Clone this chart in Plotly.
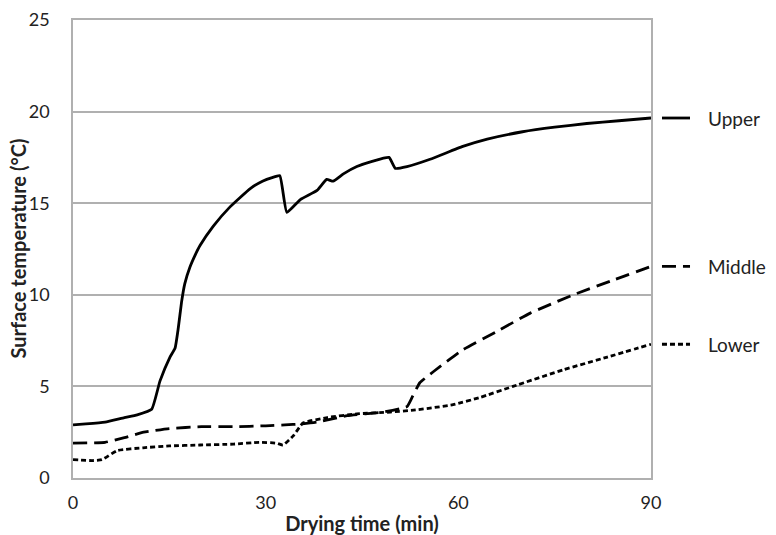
import plotly.graph_objects as go

# Upper series
upper_t = [0, 2, 5, 8, 10, 12.25, 13.55, 15.1, 15.9, 16.4, 16.9, 17.4, 18.2, 19.0, 19.8, 21.85, 24.45, 27.6, 29.5, 31, 32.2,
           33.3, 35.4, 38, 39.5, 40.5, 42.1, 44.2, 46.7, 49.2, 50.2, 52, 55.6, 60.7, 64.5, 70, 75, 80, 85, 90]
upper_v = [2.9, 2.95, 3.05, 3.3, 3.45, 3.75, 5.3, 6.6, 7.1, 8.2, 9.6, 10.6, 11.5, 12.15, 12.7, 13.75, 14.8, 15.8, 16.2, 16.4, 16.5,
           14.5, 15.2, 15.7, 16.3, 16.2, 16.6, 17.0, 17.3, 17.5, 16.9, 17.0, 17.4, 18.1, 18.5, 18.9, 19.15, 19.35, 19.5, 19.65]

# Middle series
middle_t = [0, 5, 8, 11, 15, 20, 25, 30, 33, 35.5, 38, 42.7, 48.3, 52, 52.8, 54, 56.1, 60.7, 66, 71.2, 77.9, 84.1, 90]
middle_v = [1.9, 1.95, 2.2, 2.5, 2.7, 2.8, 2.8, 2.85, 2.9, 2.95, 3.05, 3.4, 3.6, 3.9, 4.4, 5.2, 5.8, 7.0, 8.0, 9.0, 10.0, 10.8, 11.55]

# Lower series
lower_t = [0, 3, 4.5, 6.9, 10.9, 15, 19.8, 25, 29, 31.7, 32.7, 34.3, 35.8, 39.6, 44.2, 49.4, 53, 59.2, 63.4, 68.5, 76.3, 83.2, 90]
lower_v = [1.0, 0.95, 1.0, 1.5, 1.65, 1.75, 1.8, 1.85, 1.95, 1.9, 1.8, 2.3, 3.0, 3.3, 3.5, 3.6, 3.7, 4.0, 4.4, 5.0, 5.9, 6.6, 7.3]

series_names = ["Upper", "Middle", "Lower"]
dashes = ["solid", "14px,7px", "5px,3px"]

x_ticks = [0, 30, 60, 90]
y_ticks = [0, 5, 10, 15, 20, 25]

FONT = "Lato, 'Open Sans', sans-serif"

fig = go.Figure()
data = [(upper_t, upper_v), (middle_t, middle_v), (lower_t, lower_v)]
for (t, v), name, d in zip(data, series_names, dashes):
    fig.add_trace(go.Scatter(x=t, y=v, mode="lines", name=name, line_shape="spline",
                             line=dict(color="black", width=2.8, dash=d, smoothing=0.4), showlegend=False))
    # legend-like label at series end
    fig.add_shape(type="line", xref="paper", yref="y", x0=1.019, x1=1.0675, y0=v[-1], y1=v[-1],
                  line=dict(color="black", width=2.8, dash=d))
    fig.add_annotation(xref="paper", yref="y", x=1.095, y=v[-1], text=name, showarrow=False,
                       xanchor="left", yanchor="middle", font=dict(family=FONT, size=19, color="#222"))

# y-axis title as rotated annotation
fig.add_annotation(xref="paper", yref="paper", x=-0.096, y=0.5, text="<b>Surface temperature (°C)</b>",
                   textangle=-90, showarrow=False, xanchor="center", yanchor="middle",
                   font=dict(family=FONT, size=20, color="#222"))

axis_common = dict(showline=True, linecolor="#b0b0b0", linewidth=1.5, mirror=True, automargin=False,
                   zeroline=False, ticks="", tickfont=dict(family=FONT, size=18, color="#222"))

fig.update_xaxes(range=[0, 90], tickvals=x_ticks, showgrid=False, ticklabelstandoff=8,
                 title=dict(text="<b>Drying time (min)</b>", font=dict(family=FONT, size=20, color="#222"),
                            standoff=7),
                 **axis_common)
fig.update_yaxes(range=[0, 25], tickvals=y_ticks, showgrid=True, gridcolor="#b0b0b0", gridwidth=1.5,
                 ticklabelstandoff=18, **axis_common)

fig.update_layout(width=776, height=535, margin=dict(l=73, r=125, t=20, b=57),
                  plot_bgcolor="white", paper_bgcolor="white")

fig.write_html("out.html")
